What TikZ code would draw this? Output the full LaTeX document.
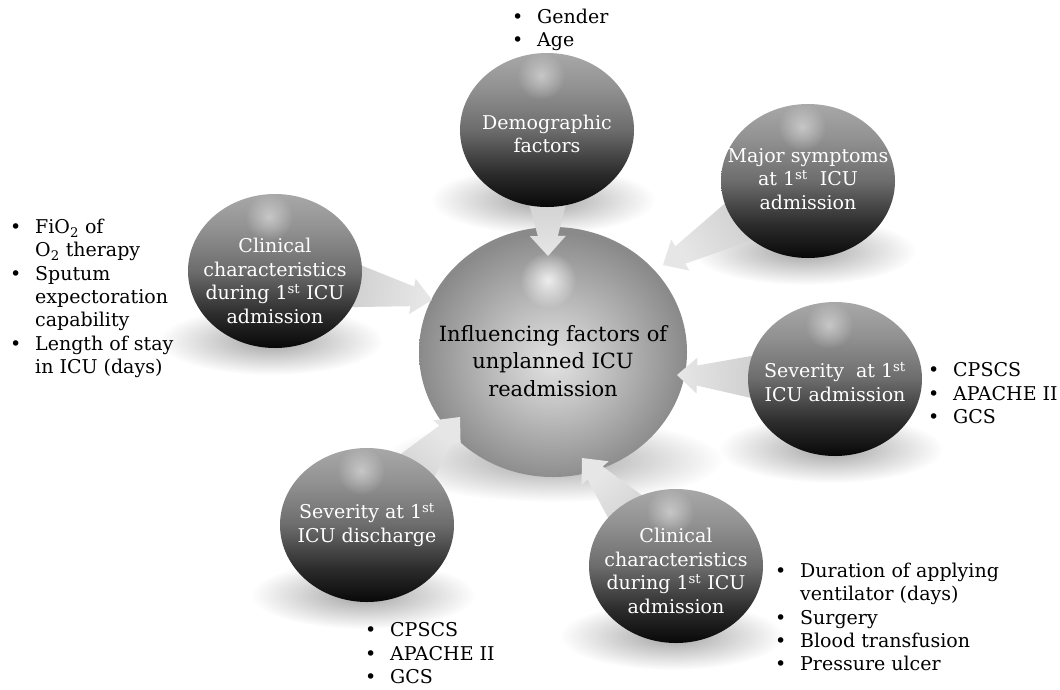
\documentclass[tikz,border=0pt]{standalone}
\usepackage{fontspec}
\setmainfont{DejaVu Serif}
\usetikzlibrary{calc,shapes.geometric,fadings}
\definecolor{bbot}{HTML}{080808}
\definecolor{blow}{HTML}{2C2C2C}
\definecolor{bmid}{HTML}{6C6C6C}
\definecolor{bup}{HTML}{929292}
\definecolor{btop}{HTML}{A8A8A8}
\definecolor{hc0}{HTML}{E2E2E2}
\definecolor{hc1}{HTML}{C4C4C4}
\definecolor{hc2}{HTML}{8A8A8A}
\definecolor{arrtip}{HTML}{E6E6E6}
\definecolor{arrbase}{HTML}{B8B8B8}
\pgfdeclareverticalshading{darkball}{100bp}{color(0bp)=(bbot); color(25bp)=(bbot); color(36bp)=(blow); color(50bp)=(bmid); color(64bp)=(bup); color(75bp)=(btop); color(100bp)=(btop)}
\pgfdeclareradialshading{hubshade}{\pgfpoint{0bp}{-2bp}}{color(0bp)=(hc0); color(9bp)=(hc1); color(25bp)=(hc2); color(50bp)=(hc2)}
\tikzfading[name=fuzzy, inner color=transparent!0, outer color=transparent!100]
\pgfdeclarelayer{bglayer}
\pgfdeclarelayer{shadowlayer}
\pgfdeclarelayer{hublayer}
\pgfdeclarelayer{arrowlayer}
\pgfsetlayers{bglayer,shadowlayer,hublayer,arrowlayer,main}
\newcommand\bulitem{\makebox[25pt][l]{•}}
\newcommand\bulcont{\hspace*{25pt}}
\newcommand\blockarrow[3]{%
  \coordinate (#2-h) at ($(#2)!20pt!(#1.center)$);
  \shade[arrowshade, shading angle=#3]
    ($(#1.center)!38pt!90:(#2)$) --
    ($(#2-h)!10pt!90:(#2)$) --
    ($(#2-h)!18pt!90:(#2)$) --
    (#2) --
    ($(#2-h)!18pt!-90:(#2)$) --
    ($(#2-h)!10pt!-90:(#2)$) --
    ($(#1.center)!38pt!-90:(#2)$) -- cycle;}
\tikzset{
  ball/.style={ellipse, minimum width=174pt, minimum height=154pt, inner sep=0pt, shade, shading=darkball},
  hubball/.style={ellipse, minimum width=268pt, minimum height=250pt, inner sep=0pt, shade, shading=hubshade},
  balltext/.style={text=white, align=center, inner sep=0pt, font=\fontsize{19}{23.8}\selectfont},
  hubtext/.style={text=black, align=center, inner sep=0pt, font=\fontsize{21}{27.5}\selectfont},
  listtext/.style={anchor=north west, align=left, inner sep=0pt, font=\fontsize{19}{23.3}\selectfont},
  arrowshade/.style={top color=arrtip, bottom color=arrbase},
  spotfx/.style={fill=white, opacity=0.45, path fading=fuzzy},
  hubspotfx/.style={fill=white, opacity=0.8, path fading=fuzzy},
  shadowfx/.style={fill=black, opacity=0.36, path fading=fuzzy}
}
\begin{document}
\begin{tikzpicture}[x=1pt,y=1pt]
\begin{pgfonlayer}{bglayer}
\fill[white] (0,0) rectangle (1060,-689);
\end{pgfonlayer}
\useasboundingbox (0,0) rectangle (1060,-689);
% hub
\begin{pgfonlayer}{hublayer}
\node[hubball] (hub) at (553,-352) {};
\fill[hubspotfx] ($(hub.center)+(-5,72)$) circle (28);
\end{pgfonlayer}
% outer balls
\node[ball] (demo)  at (547,-130) {};
\node[ball] (major) at (808,-181) {};
\node[ball] (clinL) at (275,-271) {};
\node[ball] (sevA)  at (835,-379) {};
\node[ball] (sevD)  at (367,-525) {};
\node[ball] (clinB) at (676,-566) {};
\foreach \n in {demo,major,clinL,sevA,sevD,clinB}{
  \fill[spotfx] ($(\n.center)+(-6,54)$) circle (24);
}
% shadows
\begin{pgfonlayer}{shadowlayer}
\foreach \n in {demo,major,clinL,sevA,sevD,clinB}{
  \fill[shadowfx] ($(\n.center)+(-4,-70)$) ellipse [x radius=112, y radius=34];
}
\fill[shadowfx] ($(hub.center)+(0,-108)$) ellipse [x radius=170, y radius=42];
\end{pgfonlayer}
% arrow tips
\coordinate (tdemo)  at (548,-256);
\coordinate (tmajor) at (663,-265);
\coordinate (tclinL) at (432,-300);
\coordinate (tsevA)  at (677,-375);
\coordinate (tsevD)  at (460,-417);
\coordinate (tclinB) at (582,-458);
\begin{pgfonlayer}{arrowlayer}
\blockarrow{demo}{tdemo}{180}
\blockarrow{major}{tmajor}{120}
\blockarrow{clinL}{tclinL}{-100.5}
\blockarrow{sevA}{tsevA}{88.5}
\blockarrow{sevD}{tsevD}{-40.7}
\blockarrow{clinB}{tclinB}{41}
\end{pgfonlayer}
% texts
\node[hubtext] (hubT) at ($(hub.center)+(0,-9)$) {Influencing factors of\\unplanned ICU\\readmission};
\node[balltext] (demoT)  at ($(demo.center)+(0,-4)$)  {Demographic\\factors};
\node[balltext] (majorT) at ($(major.center)+(0,2)$)  {Major symptoms\\at 1\textsuperscript{st}\ \ ICU\\admission};
\node[balltext] (clinLT) at ($(clinL.center)+(0,-10)$) {Clinical\\characteristics\\during 1\textsuperscript{st} ICU\\admission};
\node[balltext] (sevAT)  at ($(sevA.center)+(0,-3)$)  {Severity\ \ at 1\textsuperscript{st}\\ICU admission};
\node[balltext] (sevDT)  at ($(sevD.center)+(0,0)$)   {Severity at 1\textsuperscript{st}\\ICU discharge};
\node[balltext] (clinBT) at ($(clinB.center)+(0,-5)$) {Clinical\\characteristics\\during 1\textsuperscript{st} ICU\\admission};
% lists
\node[listtext] (demoL) at (512,-8.5) {\bulitem Gender\\\bulitem Age};
\node[listtext] (clinLL) at (10,-219) {\bulitem FiO\textsubscript{2} of\\\bulcont O\textsubscript{2} therapy\\\bulitem Sputum\\\bulcont expectoration\\\bulcont capability\\\bulitem Length of stay\\\bulcont in ICU (days)};
\node[listtext] (sevAL) at (928,-362.5) {\bulitem CPSCS\\\bulitem APACHE II\\\bulitem GCS};
\node[listtext] (clinBL) at (775,-563) {\bulitem Duration of applying\\\bulcont ventilator (days)\\\bulitem Surgery\\\bulitem Blood transfusion\\\bulitem Pressure ulcer};
\node[listtext] (sevDL) at (365,-622.5) {\bulitem CPSCS\\\bulitem APACHE II\\\bulitem GCS};
\end{tikzpicture}
\end{document}
